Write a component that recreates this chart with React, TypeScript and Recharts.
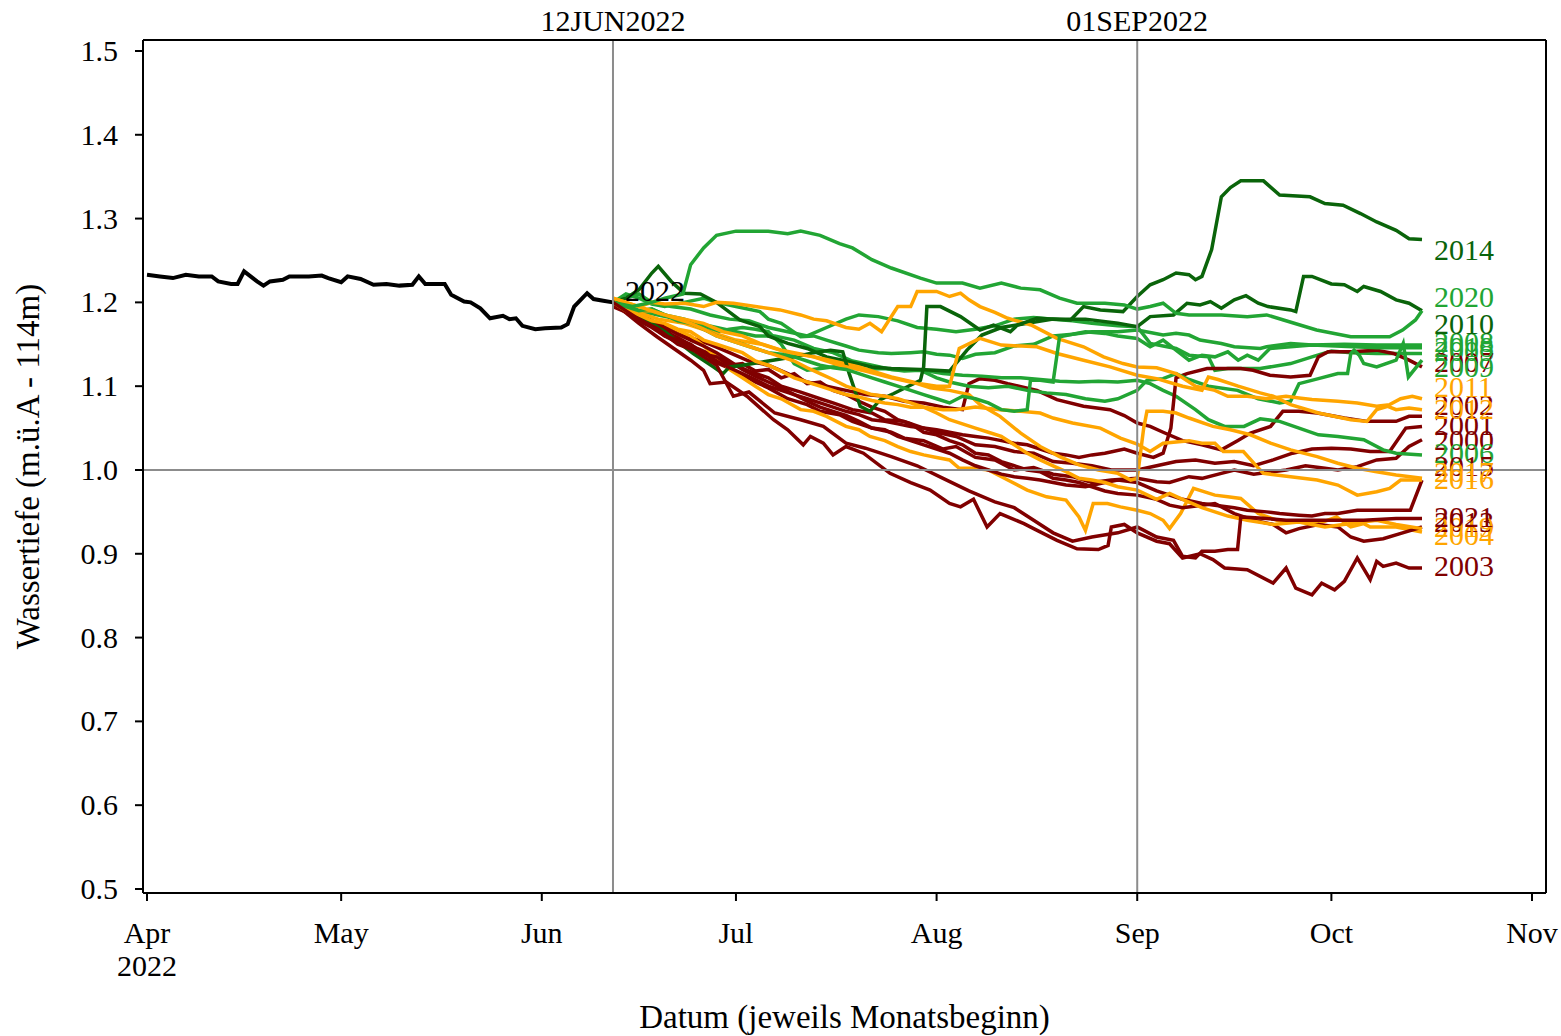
import React from 'react';
import { LineChart, Line, XAxis, YAxis, ReferenceLine, ReferenceDot, Label } from 'recharts';

const FONT = '"Liberation Serif", "Times New Roman", serif';
const DR = '#800000';
const OR = '#ffa500';
const GR = '#22a534';
const DG = '#0a640a';

const monthTicks = [0, 30, 61, 91, 122, 153, 183, 214];
const monthLabels = ['Apr', 'May', 'Jun', 'Jul', 'Aug', 'Sep', 'Oct', 'Nov'];
const yearLabel = '2022';
const yTicks = [0.5, 0.6, 0.7, 0.8, 0.9, 1.0, 1.1, 1.2, 1.3, 1.4, 1.5];
const markDays = [72, 153];
const markLabels = ['12JUN2022', '01SEP2022'];
const refLevel = 1.0;
const endDay = 197;
const xTitle = 'Datum (jeweils Monatsbeginn)';
const yTitle = 'Wassertiefe (m.ü.A - 114m)';

const TICK_FS = 30;
const TITLE_FS = 33;

type P = [number, number][];

const y2022: P = [[0,1.233],[2,1.231],[4,1.229],[6,1.233],[8,1.231],[10,1.231],[11,1.225],[13,1.222],[14,1.222],[15,1.237],[17,1.225],[18,1.220],[19,1.225],[21,1.227],[22,1.231],[25,1.231],[27,1.232],[28,1.229],[30,1.224],[31,1.231],[33,1.228],[35,1.221],[37,1.222],[39,1.220],[41,1.221],[42,1.231],[43,1.222],[46,1.222],[47,1.209],[49,1.201],[50,1.200],[51.5,1.193],[53,1.181],[55,1.184],[56,1.180],[57,1.181],[58,1.172],[60,1.168],[61.5,1.169],[64,1.170],[65,1.174],[66,1.195],[68,1.211],[69,1.204],[70.5,1.202],[72,1.200]];

const y2000: P = [[72,1.195],[75,1.185],[78,1.172],[80,1.16],[83,1.148],[86,1.14],[88,1.128],[91,1.118],[94,1.105],[96,1.098],[99,1.085],[102,1.078],[104,1.07],[107,1.066],[109,1.058],[112,1.05],[115,1.045],[117,1.038],[120,1.035],[123,1.025],[125,1.028],[128,1.015],[131,1.012],[134,1.0],[137,1.003],[140,0.995],[143,0.992],[146,0.985],[149,0.988],[153,0.99],[156,0.986],[158,0.985],[161,0.992],[163,0.99],[166,0.996],[168,1.0],[171,0.995],[174,0.998],[176,1.0],[179,1.005],[182,1.002],[184,1.0],[187,1.004],[190,1.012],[193,1.014],[195,1.028],[197,1.036]];
const y2001: P = [[72,1.2],[74,1.19],[77,1.178],[80,1.165],[82,1.158],[85,1.145],[88,1.135],[90,1.128],[93,1.118],[96,1.11],[98,1.1],[101,1.093],[104,1.085],[106,1.08],[109,1.072],[112,1.068],[114,1.06],[117,1.058],[120,1.05],[122,1.045],[125,1.04],[128,1.03],[131,1.028],[134,1.022],[137,1.02],[140,1.01],[143,1.008],[146,1.005],[149,1.0],[153,1.0],[156,1.005],[159,1.01],[162,1.012],[165,1.008],[168,1.01],[171,1.005],[174,1.012],[177,1.02],[180,1.025],[183,1.026],[186,1.025],[189,1.022],[192,1.022],[194.5,1.05],[197,1.052]];
const y2002: P = [[72,1.2],[75,1.19],[78,1.178],[81,1.17],[84,1.158],[87,1.15],[90,1.14],[93,1.13],[96,1.125],[99,1.115],[102,1.105],[105,1.1],[108,1.095],[111,1.09],[114,1.088],[117,1.082],[120,1.08],[123,1.075],[126,1.072],[127,1.103],[128.7,1.109],[131,1.107],[133,1.103],[137.5,1.095],[140.6,1.084],[144.7,1.076],[148.8,1.072],[151,1.065],[153,1.056],[155,1.052],[157,1.045],[160,1.035],[163,1.03],[166,1.024],[168.5,1.035],[170.5,1.044],[173.6,1.052],[175.5,1.07],[178,1.07],[180.8,1.068],[185,1.062],[188.5,1.058],[193,1.058],[195,1.064],[197,1.064]];
const y2003: P = [[72,1.2],[76,1.175],[78.8,1.159],[84,1.131],[86,1.119],[87,1.103],[89.5,1.105],[92.7,1.088],[96.8,1.06],[99,1.048],[101.4,1.03],[102.5,1.04],[104.5,1.032],[106,1.018],[108,1.028],[110.7,1.02],[114.8,0.996],[118,0.985],[121,0.976],[124,0.96],[125.7,0.956],[127.7,0.965],[129.8,0.932],[131.8,0.948],[135.5,0.936],[137,0.93],[140.6,0.916],[143.7,0.906],[147,0.905],[148.5,0.91],[149,0.932],[151,0.935],[153,0.925],[156,0.915],[158,0.912],[160,0.895],[162.7,0.9],[164.7,0.893],[166.5,0.883],[170,0.881],[174,0.865],[176,0.883],[177.5,0.859],[180,0.851],[181.5,0.865],[183.5,0.857],[185,0.867],[187,0.895],[189,0.869],[190,0.891],[191,0.885],[193,0.889],[195,0.883],[197,0.883]];
const y2004: P = [[72,1.2],[74,1.19],[76,1.182],[79,1.172],[81,1.17],[84,1.16],[86,1.148],[88,1.135],[90,1.12],[92,1.11],[94,1.1],[96,1.09],[98,1.085],[101,1.072],[103,1.07],[105,1.064],[108,1.052],[110,1.048],[111.7,1.04],[114,1.035],[116,1.028],[118,1.022],[120,1.018],[122,1.015],[124,1.012],[125.5,1.002],[127.7,1.002],[130,1.0],[133,0.988],[136,0.976],[139,0.968],[142,0.964],[144,0.944],[145,0.928],[146.2,0.96],[148.4,0.96],[150.4,0.956],[153,0.952],[155,0.948],[157,0.94],[158,0.93],[159.7,0.948],[161.7,0.978],[165,0.97],[167,0.968],[169,0.966],[171.7,0.948],[174.6,0.94],[177.7,0.938],[181,0.936],[183.8,0.944],[186,0.932],[188,0.936],[189,0.932],[193,0.932],[197,0.926]];
const y2005: P = [[72,1.2],[74,1.205],[76,1.21],[78,1.2],[81,1.195],[84,1.192],[87,1.185],[90,1.18],[93,1.178],[96,1.17],[99,1.165],[102,1.16],[105,1.17],[108,1.18],[110,1.185],[113,1.183],[116,1.178],[119,1.17],[122,1.168],[125,1.165],[128,1.168],[131,1.172],[134,1.18],[137,1.182],[140,1.18],[143,1.178],[146,1.175],[150,1.172],[153,1.171],[155,1.151],[157,1.148],[159,1.145],[161,1.137],[164,1.135],[165,1.119],[167,1.121],[172,1.121],[176.7,1.127],[180,1.135],[183,1.142],[186,1.14],[190,1.139],[197,1.139]];
const y2006: P = [[72,1.2],[74,1.198],[76,1.19],[79,1.185],[82,1.18],[85,1.175],[88,1.17],[91,1.165],[94,1.16],[97,1.16],[100,1.155],[103,1.145],[106,1.14],[109,1.13],[112,1.125],[115,1.12],[118,1.119],[120,1.119],[123,1.115],[126,1.113],[129,1.112],[132,1.11],[135,1.11],[138,1.108],[141,1.106],[144,1.105],[147,1.106],[150,1.105],[153,1.107],[155,1.103],[157,1.095],[159,1.088],[162,1.072],[164,1.06],[166.5,1.052],[169.5,1.052],[172,1.061],[175,1.058],[178,1.05],[181,1.042],[184,1.04],[188,1.036],[191,1.024],[193,1.02],[197,1.018]];
const y2007: P = [[72,1.2],[74,1.192],[76,1.185],[78,1.178],[80,1.17],[82,1.162],[84,1.155],[86,1.148],[88,1.14],[90,1.13],[92,1.12],[94,1.112],[96,1.105],[98,1.098],[100,1.09],[102,1.085],[104,1.08],[106,1.075],[108,1.07],[110,1.066],[112,1.06],[114,1.058],[116,1.055],[118,1.052],[120,1.05],[122,1.048],[124,1.045],[126,1.042],[128,1.04],[130,1.038],[132,1.035],[134,1.032],[136,1.03],[138,1.025],[140,1.02],[142,1.018],[144,1.015],[146,1.018],[148,1.02],[151,1.025],[153,1.02],[155.5,1.015],[157,1.02],[158.2,1.05],[159,1.11],[160.7,1.115],[163.8,1.121],[169,1.121],[170.9,1.119],[173.5,1.113],[176.7,1.111],[179.7,1.113],[181,1.135],[182.5,1.141],[186,1.141],[190,1.143],[192.6,1.139],[195,1.131],[197,1.123]];
const y2008: P = [[72,1.2],[74,1.21],[76,1.205],[78,1.198],[80,1.195],[83,1.2],[86,1.205],[88,1.2],[91,1.195],[94.7,1.189],[96,1.18],[98,1.175],[101,1.159],[103,1.16],[105,1.155],[108,1.148],[110,1.143],[113,1.14],[115,1.139],[118,1.14],[120,1.141],[122,1.138],[124,1.137],[126,1.133],[128,1.138],[131,1.14],[134,1.148],[137,1.15],[140,1.16],[143,1.162],[146,1.165],[150,1.165],[153,1.167],[157,1.161],[159,1.163],[161,1.161],[162.7,1.155],[166,1.151],[168,1.147],[172,1.145],[173,1.147],[176.7,1.151],[180,1.149],[185,1.15],[190,1.149],[197,1.149]];
const y2009: P = [[72,1.2],[74,1.195],[76,1.19],[78,1.192],[80,1.185],[83,1.18],[86,1.172],[88,1.165],[90,1.168],[92,1.17],[94,1.168],[96,1.165],[98,1.15],[100,1.127],[102,1.119],[105,1.122],[108,1.125],[111,1.12],[114,1.121],[117,1.118],[119.5,1.119],[122,1.11],[124,1.105],[127,1.1],[130,1.098],[133,1.1],[136,1.095],[139,1.092],[142,1.09],[145,1.085],[148,1.082],[150,1.085],[153,1.095],[154.5,1.107],[157,1.109],[159,1.115],[161,1.108],[164,1.1],[168.5,1.095],[171.7,1.085],[175,1.08],[176.7,1.082],[178,1.103],[181,1.109],[184,1.115],[185.5,1.115],[186,1.139],[186.5,1.143],[187.3,1.137],[188,1.127],[190,1.123],[193,1.131],[194.1,1.151],[194.9,1.111],[197,1.131]];
const y2010: P = [[72,1.2],[74,1.205],[76,1.215],[78,1.235],[79,1.243],[81,1.225],[83,1.211],[85.5,1.21],[88,1.2],[91.6,1.179],[94.7,1.171],[96,1.16],[99,1.151],[102,1.145],[105,1.135],[108,1.13],[112,1.123],[115,1.121],[119.5,1.12],[124,1.118],[126.7,1.143],[129,1.161],[132,1.17],[136,1.175],[140,1.18],[145,1.18],[150,1.175],[153,1.171],[155,1.183],[158.6,1.185],[160.7,1.199],[162.7,1.197],[164.3,1.201],[166,1.193],[168,1.203],[169.8,1.208],[171.7,1.199],[173.2,1.195],[176.7,1.191],[177.5,1.189],[178.7,1.231],[180,1.231],[183,1.222],[185,1.221],[187,1.213],[188,1.219],[190.6,1.213],[193,1.203],[195,1.199],[197,1.19]];
const y2011: P = [[72,1.205],[74,1.2],[76,1.195],[78,1.2],[80,1.198],[83,1.199],[86,1.195],[88,1.2],[90.6,1.199],[94,1.195],[97.8,1.191],[101,1.185],[103,1.18],[105,1.178],[108,1.17],[110,1.168],[111.7,1.175],[113.5,1.165],[116,1.195],[118,1.195],[119,1.213],[122,1.213],[124,1.207],[125.7,1.211],[127,1.203],[128.7,1.195],[131,1.188],[133,1.181],[136.6,1.173],[140.6,1.157],[144.7,1.147],[147.8,1.135],[150.8,1.127],[153,1.123],[156,1.122],[159,1.115],[162,1.1],[165,1.095],[167,1.088],[170,1.088],[173,1.085],[176,1.088],[178,1.086],[180,1.084],[184,1.082],[187,1.08],[190,1.076],[192,1.078],[193.7,1.085],[195.5,1.088],[197,1.085]];
const y2012: P = [[72,1.2],[75,1.19],[78,1.19],[80,1.185],[83,1.18],[86,1.175],[89,1.165],[92,1.16],[94.7,1.151],[98,1.143],[102,1.137],[106,1.13],[110,1.123],[115,1.111],[119.5,1.103],[122,1.1],[124,1.1],[125.5,1.145],[128.7,1.157],[132,1.149],[137.5,1.147],[140.6,1.139],[144.7,1.131],[148.8,1.123],[153,1.113],[156,1.109],[160,1.1],[163,1.095],[164,1.111],[165.5,1.108],[168.6,1.1],[172,1.092],[174,1.088],[176.7,1.078],[181,1.068],[186,1.06],[188.5,1.058],[190,1.072],[191.7,1.076],[193,1.072],[195,1.074],[197,1.072]];
const y2013: P = [[72,1.2],[74,1.19],[76,1.182],[78,1.175],[80,1.168],[82,1.155],[84,1.15],[86,1.138],[88,1.135],[90,1.125],[92,1.127],[94,1.118],[96,1.12],[98,1.11],[100,1.115],[102,1.103],[104,1.105],[106,1.095],[108,1.09],[110,1.082],[112,1.075],[114,1.07],[116,1.06],[118,1.055],[120,1.045],[122,1.042],[124,1.035],[126,1.03],[128,1.02],[130,1.018],[132,1.01],[134,1.005],[136,1.0],[138,0.998],[140,0.99],[142,0.988],[144,0.985],[146,0.98],[148,0.975],[150,0.972],[153,0.97],[156,0.965],[158,0.958],[160,0.955],[163,0.958],[165,0.96],[168,0.948],[171,0.94],[174,0.935],[176,0.925],[178,0.93],[181,0.935],[184,0.932],[186,0.92],[188,0.915],[191,0.918],[194,0.925],[197,0.932]];
const y2014: P = [[72,1.2],[76,1.185],[80,1.165],[84.4,1.139],[87.5,1.123],[89,1.115],[90,1.123],[92,1.125],[96,1.13],[100,1.135],[103,1.14],[105.6,1.143],[107.5,1.141],[108.5,1.115],[110.2,1.076],[111.7,1.07],[113.3,1.084],[115.3,1.091],[119.5,1.107],[120,1.123],[120.5,1.195],[122.6,1.195],[125.7,1.183],[128.7,1.167],[130.8,1.173],[133.4,1.165],[134.5,1.173],[137.5,1.181],[142.7,1.179],[144.7,1.195],[147.3,1.191],[150.8,1.189],[153,1.207],[155,1.221],[157,1.227],[159,1.235],[161,1.233],[162,1.227],[163,1.231],[164.5,1.263],[166,1.326],[167.4,1.337],[169,1.345],[172.5,1.345],[175,1.328],[179.7,1.326],[182,1.318],[184.8,1.316],[187.5,1.306],[190,1.296],[193,1.286],[195,1.276],[197,1.275]];
const y2015: P = [[72,1.2],[74,1.19],[76,1.178],[78,1.17],[80,1.16],[82,1.155],[84,1.145],[86,1.14],[88,1.13],[90,1.122],[92,1.115],[94,1.108],[96,1.1],[98,1.095],[100,1.09],[102,1.082],[104,1.075],[106,1.07],[108,1.065],[110,1.058],[112,1.05],[114,1.048],[116,1.04],[118,1.035],[120,1.03],[122,1.025],[124,1.02],[126,1.012],[128,1.005],[130,1.0],[132,0.995],[134,0.992],[136,0.99],[138,0.988],[140,0.985],[142,0.982],[145,0.98],[148,0.985],[150,0.988],[153,0.985],[156,0.975],[158,0.97],[160,0.965],[163,0.96],[165,0.958],[168,0.955],[170,0.952],[173,0.95],[175,0.948],[178,0.946],[180,0.945],[182,0.948],[184,0.948],[187,0.952],[191,0.952],[195.2,0.952],[197,0.988]];
const y2016: P = [[72,1.2],[75,1.19],[79,1.18],[83,1.175],[87,1.165],[91,1.155],[95,1.15],[99,1.14],[103,1.135],[107,1.125],[111,1.118],[115,1.11],[119,1.103],[121,1.098],[124,1.095],[127,1.09],[128.7,1.078],[131.8,1.064],[135,1.044],[138,1.028],[141,1.016],[144,1.006],[147,1.0],[150,0.996],[152,0.988],[153,0.99],[154,1.05],[154.5,1.07],[157,1.07],[159,1.068],[161,1.062],[164.7,1.052],[167.4,1.048],[170.5,1.042],[173.6,1.032],[176.7,1.024],[180.8,1.016],[184,1.008],[187,1.002],[190,0.998],[193,0.994],[197,0.99]];
const y2017: P = [[72,1.2],[74,1.19],[76,1.185],[78,1.178],[80,1.175],[82,1.168],[84,1.165],[86,1.155],[88,1.15],[90,1.145],[92,1.14],[94,1.13],[96,1.125],[98,1.118],[100,1.11],[102,1.105],[104,1.1],[106,1.095],[108,1.09],[110,1.087],[112,1.083],[114,1.08],[116,1.078],[118,1.075],[120,1.075],[123,1.072],[125,1.072],[128,1.075],[131.8,1.072],[135,1.07],[138,1.068],[140,1.062],[143,1.056],[147.3,1.05],[150.4,1.038],[153,1.031],[155,1.022],[157,1.032],[161,1.035],[163,1.032],[165,1.032],[166.3,1.022],[169.4,1.022],[171.5,1.004],[172.5,0.996],[176.7,0.992],[180.8,0.988],[184,0.982],[187,0.97],[190,0.974],[192,0.978],[193.7,0.988],[197,0.988]];
const y2018: P = [[72,1.2],[74,1.195],[76,1.19],[78,1.192],[80,1.185],[82,1.178],[84,1.175],[86,1.168],[88,1.16],[90,1.155],[92,1.15],[94,1.145],[96,1.14],[98,1.138],[100,1.135],[102,1.13],[104,1.125],[106,1.122],[108,1.12],[110,1.115],[112,1.11],[114,1.105],[116,1.1],[118,1.095],[120,1.09],[122,1.085],[124,1.08],[126,1.088],[128,1.085],[130,1.08],[132,1.072],[134,1.07],[136,1.072],[136.5,1.107],[138,1.107],[140,1.105],[141,1.159],[143,1.162],[145,1.165],[148,1.163],[150,1.16],[153,1.157],[155,1.147],[157,1.155],[161,1.131],[163,1.137],[165,1.135],[167,1.141],[168.6,1.131],[170,1.137],[171.7,1.131],[173.5,1.145],[176.7,1.147],[180,1.149],[190,1.146],[197,1.146]];
const y2019: P = [[72,1.205],[74,1.2],[76,1.195],[78,1.19],[80,1.185],[82,1.18],[84,1.175],[86,1.168],[88,1.16],[90,1.155],[92,1.15],[94,1.145],[96,1.14],[98,1.135],[100,1.13],[102,1.122],[104,1.115],[106,1.108],[108,1.1],[110,1.095],[112,1.09],[114,1.088],[116,1.085],[118,1.08],[120,1.075],[122,1.068],[124,1.06],[126,1.055],[128,1.05],[130,1.045],[132,1.04],[134,1.03],[136,1.02],[138,1.012],[140,1.005],[142,0.998],[144,0.99],[146,0.988],[148,0.985],[150,0.98],[153,0.976],[156,0.965],[158,0.972],[160,0.965],[163,0.955],[167,0.945],[170,0.94],[174,0.935],[178,0.938],[182,0.932],[186,0.936],[190,0.94],[193,0.935],[197,0.93]];
const y2020: P = [[72,1.2],[75,1.195],[78,1.2],[80,1.205],[82.8,1.21],[84,1.245],[86,1.265],[88,1.28],[91,1.285],[96,1.285],[99,1.282],[101,1.285],[104,1.28],[107,1.27],[109,1.265],[112,1.251],[115,1.241],[119.5,1.229],[122,1.223],[126,1.223],[128.7,1.217],[132,1.223],[135,1.217],[138,1.215],[141,1.205],[143.7,1.199],[148,1.199],[151,1.197],[153,1.192],[155,1.195],[157,1.199],[159,1.187],[161,1.185],[166,1.185],[170,1.183],[173,1.185],[175.6,1.179],[180.7,1.167],[186,1.159],[192,1.159],[194,1.167],[196,1.179],[197,1.19]];
const y2021: P = [[72,1.2],[76,1.18],[79,1.168],[82,1.15],[84.4,1.143],[88,1.125],[90.6,1.088],[93,1.093],[97,1.068],[101,1.06],[104.5,1.052],[108,1.032],[111,1.026],[115,1.016],[119,1.005],[123,0.99],[127,0.975],[131,0.962],[134,0.955],[137,0.94],[140,0.925],[143,0.915],[146,0.92],[150,0.925],[153,0.932],[156,0.92],[158.6,0.916],[160,0.897],[162,0.895],[163,0.903],[165,0.903],[167,0.905],[168.5,0.905],[169,0.944],[173,0.942],[176,0.94],[180,0.94],[184,0.94],[188,0.94],[193,0.942],[197,0.942]];

const series = [
  { name: '2000', color: DR, pts: y2000, labelAt: 1.036 },
  { name: '2001', color: DR, pts: y2001, labelAt: 1.054 },
  { name: '2002', color: DR, pts: y2002, labelAt: 1.078 },
  { name: '2003', color: DR, pts: y2003, labelAt: 0.885 },
  { name: '2004', color: OR, pts: y2004, labelAt: 0.922 },
  { name: '2005', color: GR, pts: y2005, labelAt: 1.142 },
  { name: '2006', color: GR, pts: y2006, labelAt: 1.02 },
  { name: '2007', color: DR, pts: y2007, labelAt: 1.129 },
  { name: '2008', color: GR, pts: y2008, labelAt: 1.153 },
  { name: '2009', color: GR, pts: y2009, labelAt: 1.123 },
  { name: '2010', color: DG, pts: y2010, labelAt: 1.174 },
  { name: '2011', color: OR, pts: y2011, labelAt: 1.099 },
  { name: '2012', color: OR, pts: y2012, labelAt: 1.073 },
  { name: '2013', color: DR, pts: y2013, labelAt: 0.938 },
  { name: '2014', color: DG, pts: y2014, labelAt: 1.2625 },
  { name: '2015', color: DR, pts: y2015, labelAt: 1.005 },
  { name: '2016', color: OR, pts: y2016, labelAt: 0.989 },
  { name: '2017', color: OR, pts: y2017, labelAt: 0.998 },
  { name: '2018', color: GR, pts: y2018, labelAt: 1.147 },
  { name: '2019', color: OR, pts: y2019, labelAt: 0.932 },
  { name: '2020', color: GR, pts: y2020, labelAt: 1.206 },
  { name: '2021', color: DR, pts: y2021, labelAt: 0.944 },
];
const currentLabelAt = 1.2136;

const toData = (pts: P) => pts.map(([d, v]) => ({ d, v }));

const X_DOMAIN: [number, number] = [-0.618, 216.16];
const Y_DOMAIN: [number, number] = [0.4952, 1.5131];

const MonthTick = (props: any) => {
  const { x, y, payload } = props;
  const i = monthTicks.indexOf(payload.value);
  return (
    <g>
      <text x={x} y={y + 40} textAnchor="middle" fontSize={TICK_FS} fontFamily={FONT} fill="#000">{monthLabels[i]}</text>
      {i === 0 && (
        <text x={x} y={y + 73} textAnchor="middle" fontSize={TICK_FS} fontFamily={FONT} fill="#000">{yearLabel}</text>
      )}
    </g>
  );
};

const TopTick = (props: any) => {
  const { x, y, payload } = props;
  const i = markDays.indexOf(payload.value);
  return (
    <text x={x} y={y - 9} textAnchor="middle" fontSize={TICK_FS} fontFamily={FONT} fill="#000">{markLabels[i]}</text>
  );
};

const YTick = (props: any) => {
  const { x, y, payload } = props;
  return (
    <text x={x - 15} y={y + 10} textAnchor="end" fontSize={TICK_FS} fontFamily={FONT} fill="#000">{Number(payload.value).toFixed(1)}</text>
  );
};

const XTitle = (p: any) => {
  const vb = p.viewBox || {};
  return (
    <text x={vb.x + vb.width / 2} y={vb.y + vb.height - 8} textAnchor="middle" fontSize={TITLE_FS} fontFamily={FONT} fill="#000">{xTitle}</text>
  );
};

const YTitle = (p: any) => {
  const vb = p.viewBox || {};
  const cx = vb.x + 28;
  const cy = vb.y + vb.height / 2;
  return (
    <text x={cx} y={cy} dy="0.33em" transform={`rotate(-90 ${cx} ${cy})`} textAnchor="middle" fontSize={TITLE_FS} fontFamily={FONT} fill="#000">{yTitle}</text>
  );
};

const makeEndLabel = (text: string, color: string) => (p: any) => {
  const vb = p.viewBox || {};
  const x = vb.x + (vb.width || 0) / 2 + 12;
  const y = vb.y + (vb.height || 0) / 2;
  return (
    <text x={x} y={y} dy="0.33em" textAnchor="start" fontSize={TICK_FS} fontFamily={FONT} fill={color}>{text}</text>
  );
};

const NoShape = () => <g />;

export default function App() {
  return (
    <div style={{ position: 'absolute', left: 0, top: 0, width: 1561, height: 1036, background: '#fff' }}>
      <LineChart width={1561} height={1036} margin={{ top: 0, right: 0, bottom: 0, left: 0 }}>
        <XAxis
          xAxisId="b"
          dataKey="d"
          type="number"
          domain={X_DOMAIN}
          allowDataOverflow
          ticks={monthTicks}
          interval={0}
          tick={<MonthTick />}
          tickSize={8}
          tickMargin={2}
          height={143}
          axisLine={{ stroke: '#000', strokeWidth: 2 }}
          tickLine={{ stroke: '#000', strokeWidth: 2 }}
          label={<Label content={XTitle} />}
        />
        <XAxis
          xAxisId="t"
          orientation="top"
          dataKey="d"
          type="number"
          domain={X_DOMAIN}
          allowDataOverflow
          ticks={markDays}
          interval={0}
          tick={<TopTick />}
          tickLine={false}
          tickSize={0}
          tickMargin={0}
          height={40}
          axisLine={{ stroke: '#000', strokeWidth: 2 }}
        />
        <YAxis
          yAxisId="l"
          type="number"
          domain={Y_DOMAIN}
          allowDataOverflow
          ticks={yTicks}
          interval={0}
          tick={<YTick />}
          tickSize={8}
          tickMargin={2}
          width={143}
          axisLine={{ stroke: '#000', strokeWidth: 2 }}
          tickLine={{ stroke: '#000', strokeWidth: 2 }}
          label={<Label content={YTitle} />}
        />
        <YAxis
          yAxisId="r"
          orientation="right"
          type="number"
          domain={Y_DOMAIN}
          allowDataOverflow
          tick={false}
          tickLine={false}
          width={15}
          axisLine={{ stroke: '#000', strokeWidth: 2 }}
        />
        {series.map((s) => (
          <Line
            key={s.name}
            xAxisId="b"
            yAxisId="l"
            data={toData(s.pts)}
            dataKey="v"
            type="linear"
            stroke={s.color}
            strokeWidth={3.5}
            dot={false}
            activeDot={false}
            isAnimationActive={false}
          />
        ))}
        <Line
          xAxisId="b"
          yAxisId="l"
          data={toData(y2022)}
          dataKey="v"
          type="linear"
          stroke="#000"
          strokeWidth={4}
          dot={false}
          activeDot={false}
          isAnimationActive={false}
        />
        {markDays.map((d) => (
          <ReferenceLine key={d} xAxisId="b" yAxisId="l" x={d} stroke="#8c8c8c" strokeWidth={2} />
        ))}
        <ReferenceLine xAxisId="b" yAxisId="l" y={refLevel} stroke="#8c8c8c" strokeWidth={2} />
        {series.map((s) => (
          <ReferenceDot
            key={'lbl' + s.name}
            xAxisId="b"
            yAxisId="l"
            x={endDay}
            y={s.labelAt}
            r={1}
            shape={NoShape}
            label={<Label content={makeEndLabel(s.name, s.color)} />}
          />
        ))}
        <ReferenceDot
          xAxisId="b"
          yAxisId="l"
          x={72}
          y={currentLabelAt}
          r={1}
          shape={NoShape}
          label={<Label content={makeEndLabel('2022', '#000')} />}
        />
      </LineChart>
    </div>
  );
}
